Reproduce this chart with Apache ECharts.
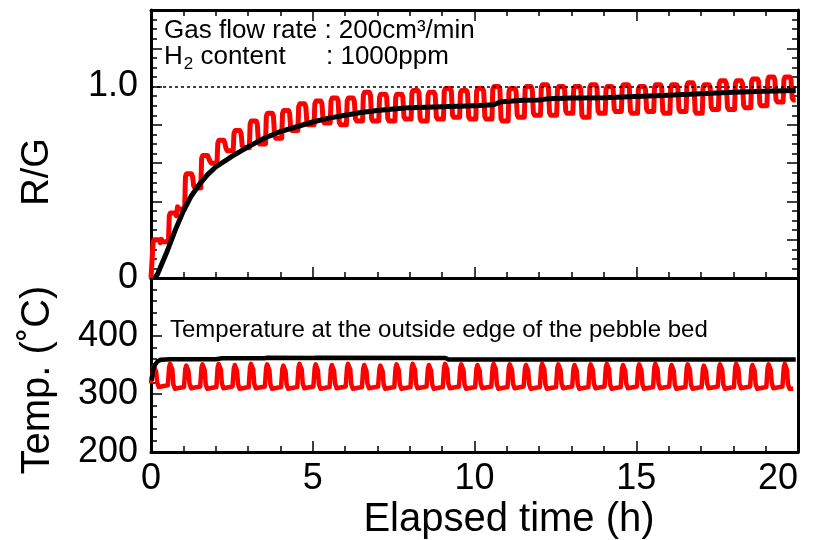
<!DOCTYPE html>
<html>
<head>
<meta charset="utf-8">
<script src="https://cdn.jsdelivr.net/npm/echarts@6/dist/echarts.min.js"></script>
<style>html,body{margin:0;padding:0;background:#fff;}#c{width:834px;height:540px;}</style>
</head>
<body>
<div id="c"></div>
<script>
// ---- data ----
const xTickLabels = ['0', '5', '10', '15', '20'];
const rgLabelValues = [0, 1.0];
const rgLabelTexts = ['0', '1.0'];
const tempLabelValues = [200, 300, 400];
const tempLabelTexts = ['200', '300', '400'];

// start time of each heating cycle (h)
const cycleStart = [0.0, 0.5, 1.0, 1.5, 2.0, 2.5, 3.0, 3.5, 4.0, 4.5,
  5.0, 5.5, 6.0, 6.5, 7.0, 7.5, 8.0, 8.5, 9.0, 9.5,
  10.0, 10.5, 11.0, 11.5, 12.0, 12.5, 13.0, 13.5, 14.0, 14.5,
  15.0, 15.5, 16.0, 16.5, 17.0, 17.5, 18.0, 18.5, 19.0, 19.5];

// R/G (red): upper and lower level of each cycle
const rgHigh = [0.20, 0.34, 0.545, 0.64, 0.72, 0.77, 0.82, 0.86, 0.875, 0.91,
  0.925, 0.94, 0.94, 0.97, 0.96, 0.96, 0.98, 0.97, 0.99, 0.98,
  0.99, 1.00, 0.99, 1.00, 1.01, 1.00, 1.00, 1.01, 1.00, 1.01,
  1.00, 1.01, 1.01, 1.02, 1.01, 1.03, 1.03, 1.04, 1.05, 1.05];
const rgLow = [0.19, 0.36, 0.47, 0.60, 0.665, 0.68, 0.70, 0.73, 0.77, 0.80,
  0.81, 0.80, 0.82, 0.82, 0.82, 0.83, 0.82, 0.83, 0.84, 0.83,
  0.83, 0.82, 0.84, 0.85, 0.85, 0.86, 0.84, 0.86, 0.87, 0.86,
  0.87, 0.86, 0.87, 0.86, 0.88, 0.88, 0.89, 0.90, 0.92, 0.93];

// R/G (black, smoothed)
const rgBlackT = [0.12, 0.2, 0.3, 0.5, 0.75, 1.0, 1.25, 1.5, 1.75, 2.0, 2.5, 3.0, 3.5, 4.0, 4.5, 5.0,
  5.5, 6.0, 6.5, 7.0, 7.5, 8.0, 9.0, 10.0, 10.6, 10.8, 11.5, 12.0, 12.3, 13.0, 14.0,
  15.0, 16.0, 17.0, 18.0, 19.0, 19.93];
const rgBlackV = [0.0, 0.02, 0.06, 0.14, 0.25, 0.35, 0.43, 0.49, 0.54, 0.58, 0.635, 0.685, 0.73, 0.765, 0.79, 0.815,
  0.835, 0.85, 0.865, 0.875, 0.883, 0.89, 0.895, 0.90, 0.905, 0.92, 0.928, 0.93, 0.937, 0.94, 0.942,
  0.948, 0.955, 0.962, 0.97, 0.975, 0.98];

// Temperature (red): peak and trough of each cycle (deg C)
const tempPeak = [348, 352, 349, 351, 352, 350, 352, 351, 349, 352,
  351, 350, 352, 350, 349, 351, 352, 350, 352, 351,
  350, 352, 351, 350, 352, 351, 350, 351, 352, 350,
  351, 352, 350, 351, 349, 351, 352, 350, 351, 352];
const tempTrough = [312, 309, 310, 309, 310, 309, 310, 309, 309, 310,
  309, 310, 309, 310, 309, 309, 310, 309, 310, 309,
  310, 309, 310, 309, 309, 310, 309, 310, 309, 310,
  309, 310, 309, 309, 310, 309, 310, 309, 310, 309];

// Temperature (black)
const tempBlackT = [0.02, 0.06, 0.12, 0.2, 0.3, 0.6, 2.0, 2.2, 3.5, 3.6, 5.0, 5.1, 9.1, 9.2, 19.93];
const tempBlackV = [323, 340, 350, 356, 359, 360, 360, 361.5, 361.5, 362.5, 362, 362.5, 362, 359.5, 359.5];

// ---- build series data (waveform shape per cycle) ----
const rgRed = [[0, 0], [0.03, 0]];
let prev = 0;
cycleStart.forEach((s, k) => {
  const h = rgHigh[k], l = rgLow[k];
  rgRed.push([s + 0.04, prev], [s + 0.065, h - 0.015], [s + 0.1, h], [s + 0.25, h],
    [s + 0.285, h - 0.015], [s + 0.32, l + 0.012], [s + 0.36, l]);
  prev = l;
});
rgRed.push([19.93, prev]);

const tempRed = [[0, 318]];
let prevT = 318;
cycleStart.forEach((s, k) => {
  const p = tempPeak[k], t = tempTrough[k];
  tempRed.push([s + 0.02, prevT + 3], [s + 0.06, p - 6], [s + 0.09, p], [s + 0.13, p - 2],
    [s + 0.16, p - 10], [s + 0.19, t + 8], [s + 0.24, t]);
  prevT = t;
});
tempRed.push([19.85, prevT]);

const rgBlack = rgBlackT.map((t, i) => [t, rgBlackV[i]]);
const tempBlack = tempBlackT.map((t, i) => [t, tempBlackV[i]]);

// ---- chart ----
const FONT = "'Liberation Sans', Arial, sans-serif";
const axisLine = { show: true, onZero: false, lineStyle: { color: '#000', width: 3 } };
function xAxis(grid, pos, labels, ticks) {
  return {
    type: 'value', gridIndex: grid, position: pos, min: 0, max: 20, interval: 5,
    axisLine: axisLine, splitLine: { show: false },
    axisTick: { show: ticks, inside: true, length: 11, lineStyle: { color: '#000', width: 1.5 } },
    minorTick: { show: ticks, splitNumber: 5, length: 6, lineStyle: { color: '#000', width: 1.5 } },
    axisLabel: {
      show: labels, margin: 9, fontSize: 36, color: '#000', fontFamily: FONT,
      alignMaxLabel: 'right',
      formatter: v => { const i = Math.round(v / 5); return Math.abs(v - i * 5) < 1e-6 ? xTickLabels[i] : ''; }
    }
  };
}
function yAxis(grid, pos, min, max, interval, split, labels, ticks, lv, lt) {
  return {
    type: 'value', gridIndex: grid, position: pos, min: min, max: max, interval: interval,
    axisLine: axisLine, splitLine: { show: false },
    axisTick: { show: ticks, inside: true, length: 11, lineStyle: { color: '#000', width: 1.5 } },
    minorTick: { show: ticks, splitNumber: split, length: 6, lineStyle: { color: '#000', width: 1.5 } },
    axisLabel: {
      show: labels, margin: 13, fontSize: 36, color: '#000', fontFamily: FONT,
      formatter: v => { for (let i = 0; i < lv.length; i++) { if (Math.abs(v - lv[i]) < 1e-6) return lt[i]; } return ''; }
    }
  };
}

const chart = echarts.init(document.getElementById('c'), null, { renderer: 'canvas' });
chart.setOption({
  animation: false,
  backgroundColor: '#fff',
  grid: [
    { left: 151, right: 36, top: 10, height: 268 },
    { left: 151, right: 36, top: 278, height: 174 }
  ],
  xAxis: [
    xAxis(0, 'bottom', false, true),
    xAxis(0, 'top', false, true),
    xAxis(1, 'bottom', true, true),
    xAxis(1, 'top', false, false)
  ],
  yAxis: [
    yAxis(0, 'left', 0, 1.4, 0.2, 4, true, true, rgLabelValues, rgLabelTexts),
    yAxis(0, 'right', 0, 1.4, 0.2, 4, false, true, rgLabelValues, rgLabelTexts),
    yAxis(1, 'left', 200, 500, 100, 5, true, true, tempLabelValues, tempLabelTexts),
    yAxis(1, 'right', 200, 500, 100, 5, false, false, tempLabelValues, tempLabelTexts)
  ],
  series: [
    {
      type: 'line', xAxisIndex: 0, yAxisIndex: 0, data: [], symbol: 'none', z: 1,
      markLine: {
        silent: true, symbol: 'none', label: { show: false },
        lineStyle: { color: '#000', width: 1.5, type: [3, 3] },
        data: [{ yAxis: 1.0 }]
      }
    },
    { type: 'line', xAxisIndex: 0, yAxisIndex: 0, data: rgRed, symbol: 'none', z: 2,
      lineStyle: { color: '#ff0000', width: 5, join: 'round', cap: 'butt' } },
    { type: 'line', xAxisIndex: 0, yAxisIndex: 0, data: rgBlack, symbol: 'none', z: 3,
      lineStyle: { color: '#000', width: 5, join: 'round', cap: 'butt' } },
    { type: 'line', xAxisIndex: 2, yAxisIndex: 2, data: tempRed, symbol: 'none', z: 2,
      lineStyle: { color: '#ff0000', width: 4.5, join: 'round', cap: 'butt' } },
    { type: 'line', xAxisIndex: 2, yAxisIndex: 2, data: tempBlack, symbol: 'none', z: 3,
      lineStyle: { color: '#000', width: 4.5, join: 'round', cap: 'butt' } }
  ],
  graphic: [
    { type: 'text', left: 164, top: 18, style: { text: 'Gas flow rate : 200cm³/min', fontSize: 26, fontFamily: FONT, fill: '#000' } },
    { type: 'text', left: 164, top: 44, style: {
        text: '{a|H}{s|2}{a| content}', fontFamily: FONT, fill: '#000',
        rich: { a: { fontSize: 26, fontFamily: FONT, fill: '#000' }, s: { fontSize: 17, fontFamily: FONT, fill: '#000', padding: [14, 0, 0, 1] } }
      } },
    { type: 'text', left: 326, top: 44, style: { text: ': 1000ppm', fontSize: 26, fontFamily: FONT, fill: '#000' } },
    { type: 'text', left: 170, top: 318, style: { text: 'Temperature at the outside edge of the pebble bed', fontSize: 24, fontFamily: FONT, fill: '#000' } },
    { type: 'text', x: 38, y: 172, rotation: Math.PI / 2, style: { text: 'R/G', fontSize: 38, fontFamily: FONT, fill: '#000', align: 'center', verticalAlign: 'middle' } },
    { type: 'text', x: 38, y: 380, rotation: Math.PI / 2, style: { text: 'Temp. (˚C)', fontSize: 40, fontFamily: FONT, fill: '#000', align: 'center', verticalAlign: 'middle' } },
    { type: 'text', x: 509, y: 520, style: { text: 'Elapsed time (h)', fontSize: 40, fontFamily: FONT, fill: '#000', align: 'center', verticalAlign: 'middle' } }
  ]
});
</script>
</body>
</html>
